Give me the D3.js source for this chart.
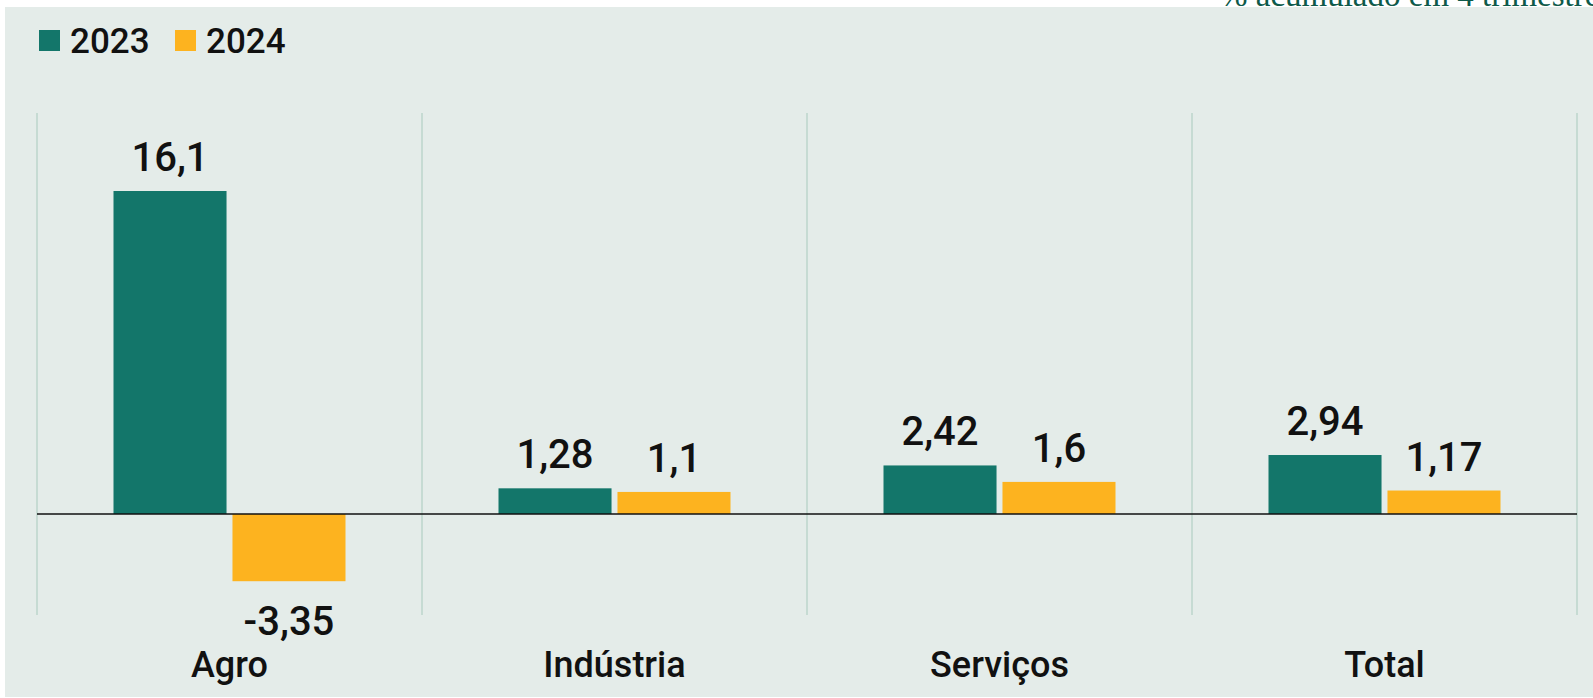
<!DOCTYPE html>
<html>
  <head>
    <meta charset="utf-8">
    <title>PIB por setor</title>
    <script src="https://d3js.org/d3.v7.min.js"></script>
    <style>
      body { margin: 0; background: #fff; overflow: hidden; }
      svg text { font-family: Roboto, "DejaVu Sans", sans-serif; font-weight: 500; fill: #111; }
      .subtitle { font-family: "Liberation Serif", serif !important; font-weight: 400 !important; fill: #0e5a4a !important; }
    </style>
  </head>
  <body>
    <svg id="chart" width="1593" height="698"></svg>
    <script>
      // data
      categories = ["Agro", "Indústria", "Serviços", "Total"];
      series = ["2023", "2024"];
      values2023 = [16.1, 1.28, 2.42, 2.94];
      values2024 = [-3.35, 1.1, 1.6, 1.17];
      labels2023 = ["16,1", "1,28", "2,42", "2,94"];
      labels2024 = ["-3,35", "1,1", "1,6", "1,17"];
      colors = ["#13766a", "#fdb31f"];

      data = categories.map(function(c, i) {
        return { cat: c, vals: [
          { s: series[0], v: values2023[i], label: labels2023[i] },
          { s: series[1], v: values2024[i], label: labels2024[i] }
        ] };
      });

      chart = d3.select("#chart");

      // background panel + header text (cut off at the top, as in the source)
      chart.append("text")
        .classed("subtitle", true)
        .attr("x", 1220).attr("y", 6)
        .style("font-size", "33px")
        .text("% acumulado em 4 trimestres");
      chart.append("rect")
        .attr("x", 5).attr("y", 7)
        .attr("width", 1593).attr("height", 690)
        .attr("fill", "#e4ece9");

      // scales
      x0 = d3.scaleBand().domain(categories).range([37, 1577]);
      x1 = d3.scaleBand().domain(series).range([-116, 116]).paddingInner(0.05);
      y = d3.scaleLinear().domain([0, 16.1]).range([514, 191]);
      color = d3.scaleOrdinal().domain(series).range(colors);

      // vertical separators
      bounds = categories.map(function(c) { return x0(c); }).concat([x0.range()[1]]);
      chart.append("g")
        .selectAll("line")
          .data(bounds)
        .enter().append("line")
          .attr("x1", function(d) { return d; })
          .attr("x2", function(d) { return d; })
          .attr("y1", 113)
          .attr("y2", 615)
          .attr("stroke", "#bdd6cb")
          .attr("stroke-width", 1.5);

      // bars
      groups = chart.append("g")
        .selectAll(".group")
          .data(data)
        .enter().append("g")
          .classed("group", true)
          .attr("transform", function(d) { return "translate(" + (x0(d.cat) + x0.bandwidth() / 2) + ",0)"; });
      groups.selectAll("rect")
          .data(function(d) { return d.vals; })
        .enter().append("rect")
          .attr("x", function(d) { return x1(d.s); })
          .attr("width", x1.bandwidth())
          .attr("y", function(d) { return Math.min(y(d.v), y(0)); })
          .attr("height", function(d) { return Math.abs(y(d.v) - y(0)); })
          .attr("fill", function(d) { return color(d.s); });
      groups.selectAll(".value")
          .data(function(d) { return d.vals; })
        .enter().append("text")
          .classed("value", true)
          .attr("x", function(d) { return x1(d.s) + x1.bandwidth() / 2; })
          .attr("y", function(d) { return d.v >= 0 ? y(d.v) - 20 : y(d.v) + 54; })
          .attr("text-anchor", "middle")
          .style("font-size", "40px")
          .text(function(d) { return d.label; });

      // zero line
      chart.append("line")
        .attr("x1", 37).attr("x2", 1577)
        .attr("y1", y(0)).attr("y2", y(0))
        .attr("stroke", "#111")
        .attr("stroke-width", 1.6);

      // category labels
      chart.append("g")
        .selectAll("text")
          .data(categories)
        .enter().append("text")
          .attr("x", function(d) { return x0(d) + x0.bandwidth() / 2; })
          .attr("y", 677)
          .attr("text-anchor", "middle")
          .style("font-size", "36px")
          .text(function(d) { return d; });

      // legend
      legend = chart.append("g")
        .selectAll(".key")
          .data(series)
        .enter().append("g")
          .classed("key", true)
          .attr("transform", function(d, i) { return "translate(" + (39 + i * 136) + ",30)"; });
      legend.append("rect")
        .attr("width", 21).attr("height", 21)
        .attr("fill", function(d) { return color(d); });
      legend.append("text")
        .attr("x", 31).attr("y", 23)
        .style("font-size", "35px")
        .text(function(d) { return d; });
    </script>
  </body>
</html>
